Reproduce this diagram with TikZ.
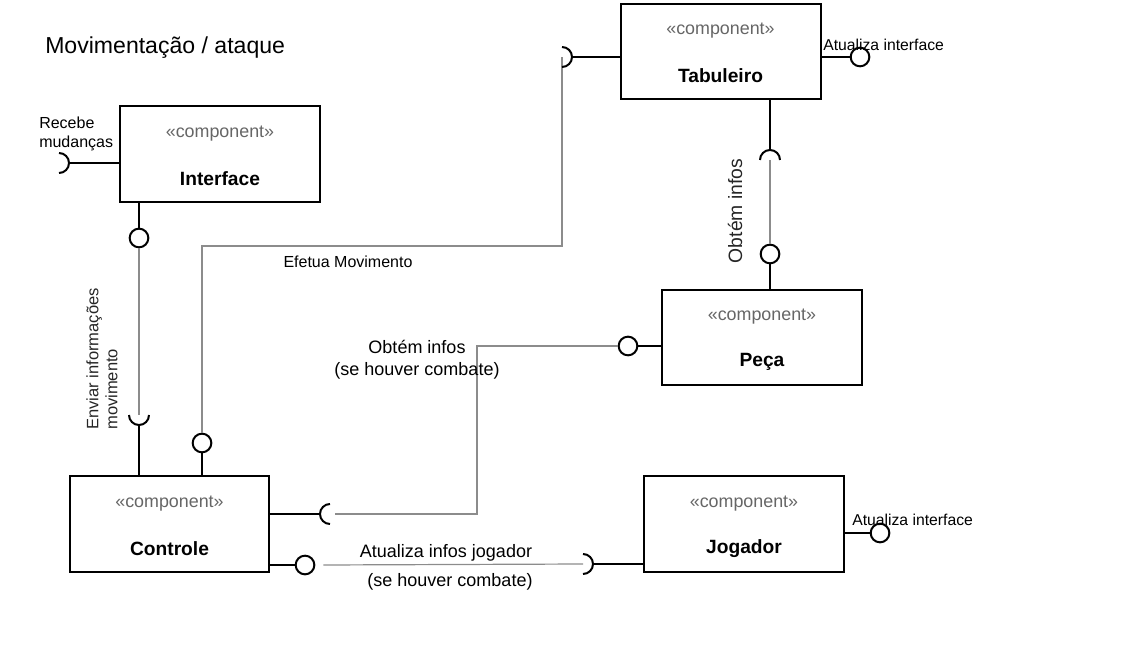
\documentclass[tikz,border=0pt]{standalone}
\usepackage{fontspec}
\setmainfont{Liberation Sans}
\usetikzlibrary{calc}
\definecolor{conn}{HTML}{8C8C8C}
\definecolor{stereo}{HTML}{666666}
\tikzset{
  compbox/.style={draw, line width=1.5pt, minimum width=150pt, minimum height=72pt, inner sep=0pt, fill=white},
  stereotxt/.style={text=stereo, font=\fontsize{13.4}{16}\selectfont, inner sep=0pt},
  nametxt/.style={font=\fontsize{14.4}{17}\selectfont\bfseries, inner sep=0pt},
  lolli/.style={circle, draw, line width=1.5pt, minimum size=14pt, inner sep=0pt, fill=white},
  blk/.style={line width=1.5pt},
  gry/.style={line width=0.9pt, draw=conn},
  lbl/.style={font=\fontsize{12}{14.5}\selectfont, inner sep=0pt},
  lblb/.style={font=\fontsize{13.5}{16.5}\selectfont, inner sep=0pt},
}
\begin{document}
\begin{tikzpicture}[x=0.75pt, y=-0.75pt]
\useasboundingbox (0,0) rectangle (1130,655);
% boxes
\node[compbox] (iface) at (220,154) {};
\node[compbox, minimum height=71.25pt] (tab) at (720.5,51.5) {};
\node[compbox, minimum height=71.25pt] (peca) at (762,337.5) {};
\node[compbox, minimum width=149.25pt] (ctrl) at (169.5,524) {};
\node[compbox] (jog) at (744,524) {};
\foreach \b/\n in {iface/Interface, tab/Tabuleiro, peca/Peça, ctrl/Controle, jog/Jogador}{
  \node[stereotxt] (\b-st) at ($(\b.center)+(0,-20.5)$) {«component»};
  \node[nametxt] (\b-nm) at ($(\b.center)+(0,24.5)$) {\n};
}
% lollipops
\node[lolli] (L1) at (139,238) {};
\node[lolli] (L2) at (202,443) {};
\node[lolli] (L3) at (860,57) {};
\node[lolli] (L4) at (770,254) {};
\node[lolli] (L5) at (628,346) {};
\node[lolli] (L6) at (305,565) {};
\node[lolli] (L7) at (880,533) {};
% sockets (centres)
\coordinate (S1) at (59,163);
\coordinate (S2) at (139,415);
\coordinate (S3) at (562,57);
\coordinate (S4) at (770,160);
\coordinate (S5) at (330,514);
\coordinate (S6) at (583,564);
\coordinate (S1e) at (69,163);
\coordinate (S2e) at (139,425);
\coordinate (S3e) at (572,57);
\coordinate (S4e) at (770,150);
\coordinate (S5e) at (320,514);
\coordinate (S6e) at (593,564);
% grey connectors
\draw[gry] (L1.south) -- (S2);
\draw[gry] (L2.north) -- (202,246) -| (S3);
\draw[gry] (S4) -- (L4.north);
\draw[gry] (L5.west) -- (477,346) |- ($(S5)+(5,0)$);
\draw[gry] (L6.east) ++(8,0) -- (S6);
% black stubs
\draw[blk] (S1e) -- (iface.west |- S1e);
\draw[blk] (L1 |- iface.south) -- (L1.north);
\draw[blk] (S2e) -- (S2e |- ctrl.north);
\draw[blk] (L2 |- ctrl.north) -- (L2.south);
\draw[blk] (S3e) -- (tab.west |- S3e);
\draw[blk] (tab.east |- L3) -- (L3.west);
\draw[blk] (S4e |- tab.south) -- (S4e);
\draw[blk] (L4.south) -- (L4 |- peca.north);
\draw[blk] (peca.west |- L5) -- (L5.east);
\draw[blk] (ctrl.east |- S5e) -- (S5e);
\draw[blk] (ctrl.east |- L6) -- (L6.west);
\draw[blk] (S6e) -- (jog.west |- S6e);
\draw[blk] (jog.east |- L7) -- (L7.west);
% socket arcs
\draw[blk] ($(S1)+(0,-10)$) arc[start angle=-90, end angle=90, radius=10];
\draw[blk] ($(S2)+(10,0)$) arc[start angle=0, end angle=180, radius=10];
\draw[blk] ($(S3)+(0,-10)$) arc[start angle=-90, end angle=90, radius=10];
\draw[blk] ($(S4)+(-10,0)$) arc[start angle=180, end angle=360, radius=10];
\draw[blk] ($(S5)+(0,-10)$) arc[start angle=270, end angle=90, radius=10];
\draw[blk] ($(S6)+(0,-10)$) arc[start angle=-90, end angle=90, radius=10];
% labels
\node[anchor=west, font=\fontsize{17.3}{20}\selectfont, inner sep=0pt] (title) at (45,47.5) {Movimentação / ataque};
\node[lbl, anchor=west, align=left] (recebe) at (39,134) {Recebe\\mudanças};
\node[lbl] (efetua) at (348,262) {Efetua Movimento};
\node[lbl, anchor=west, font=\fontsize{11.8}{14}\selectfont] (atu1) at (823,45) {Atualiza interface};
\node[lbl, anchor=west, font=\fontsize{11.8}{14}\selectfont] (atu2) at (852,520) {Atualiza interface};
\node[lbl, rotate=90, font=\fontsize{14.5}{17}\selectfont, text=black!85] (obt1) at (735,211) {Obtém infos};
\node[lbl, rotate=90, align=left, font=\fontsize{12.4}{14.2}\selectfont, text=black!85] (enviar) at (102,359) {Enviar informações\\movimento};
\node[lblb, align=center] (obt2) at (417,359.5) {Obtém infos\\(se houver combate)};
\node[lblb] (atj) at (446,553) {Atualiza infos jogador};
\node[lblb] (seh) at (450,582) {(se houver combate)};
\end{tikzpicture}
\end{document}
